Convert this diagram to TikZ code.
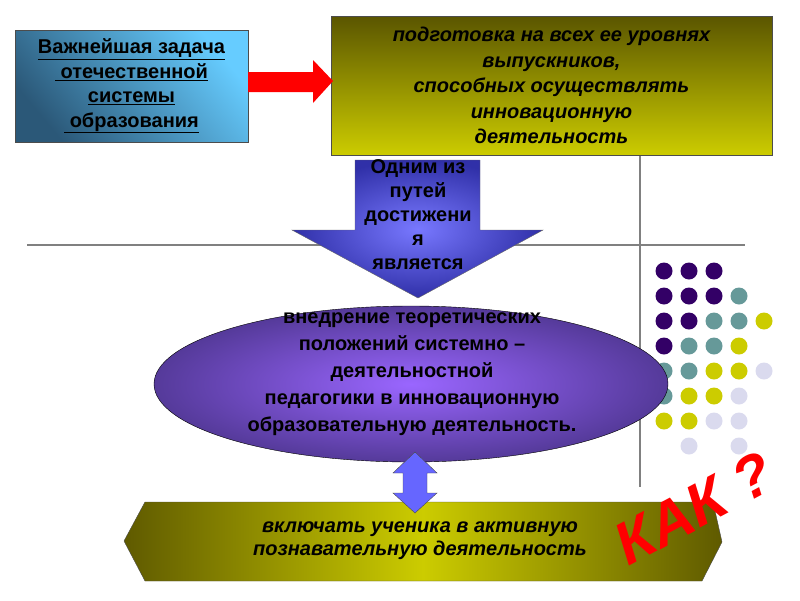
\documentclass[tikz,border=0pt]{standalone}
\usepackage{fontspec}
\setmainfont{Liberation Sans}
\usetikzlibrary{positioning}
\usetikzlibrary{shapes.geometric}
\definecolor{darkolive}{HTML}{5F5A00}
\definecolor{lightolive}{HTML}{CCCC00}
\definecolor{deepblue}{HTML}{2B5878}
\definecolor{skyblue}{HTML}{66CCFF}
\definecolor{dotpurple}{HTML}{330066}
\definecolor{dotteal}{HTML}{669999}
\definecolor{dotyellow}{HTML}{CCCC00}
\definecolor{dotlilac}{HTML}{DADAEE}
\definecolor{violetin}{HTML}{9A66FF}
\definecolor{violetout}{HTML}{553A9A}
\definecolor{bluein}{HTML}{7878FF}
\definecolor{blueout}{HTML}{3030A8}
\definecolor{arrowblue}{HTML}{6666FF}

\begin{document}
\begin{tikzpicture}[x=1pt,y=-1pt,
    txt/.style={font=\fontsize{20}{24.5}\selectfont\bfseries, align=center, text=black},
    dot/.style={circle, inner sep=0pt, minimum size=17pt}]
    \useasboundingbox (0,0) rectangle (800,600);

    % Frame lines
    \coordinate (h1) at (27,245);
    \coordinate (h2) at (745,245);
    \coordinate (v1) at (640,155);
    \coordinate (v2) at (640,487);
    \draw[gray, line width=1.5pt] (h1) -- (h2);
    \draw[gray, line width=1.5pt] (v1) -- (v2);

    % Dots
    \foreach \c/\r/\col in {0/0/dotpurple,1/0/dotpurple,2/0/dotpurple,
        0/1/dotpurple,1/1/dotpurple,2/1/dotpurple,3/1/dotteal,
        0/2/dotpurple,1/2/dotpurple,2/2/dotteal,3/2/dotteal,4/2/dotyellow,
        0/3/dotpurple,1/3/dotteal,2/3/dotteal,3/3/dotyellow,
        0/4/dotteal,1/4/dotteal,2/4/dotyellow,3/4/dotyellow,4/4/dotlilac,
        0/5/dotteal,1/5/dotyellow,2/5/dotyellow,3/5/dotlilac,
        0/6/dotyellow,1/6/dotyellow,2/6/dotlilac,3/6/dotlilac,
        1/7/dotlilac,3/7/dotlilac}
        \node[dot, fill=\col] (d\c\r) at ({664+25*\c},{271+25*\r}) {};

    % Task box
    \node[draw=black!70, top color=skyblue, bottom color=deepblue, shading angle=-50,
        minimum width=233pt, minimum height=112pt, txt] (task) at (131.5,86)
        {\underline{Важнейшая задача}\\ \underline{ отечественной}\\ \underline{системы}\\ \underline{ образования}};

    % Goal box
    \node[draw=black!70, top color=darkolive!95!black, bottom color=lightolive,
        minimum width=441pt, minimum height=139pt, txt,
        font=\fontsize{20}{25.5}\selectfont\bfseries\itshape] (goal) at (551.5,85.5)
        {подготовка на всех ее уровнях\\ выпускников,\\ способных осуществлять\\ инновационную\\ деятельность};

    % Red arrow
    \fill[red] (248,72) -- (313,72) -- (313,60) -- (333,81) -- (313,103) -- (313,92) -- (248,92) -- cycle;

    % Way ellipse
    \node[ellipse, draw=black, inner color=violetin, outer color=violetout,
        minimum width=514pt, minimum height=156pt] (way) at (411,384) {};
    \node[txt, font=\fontsize{20}{27}\selectfont\bfseries] (waytext) at (412,374)
        {внедрение теоретических\\ положений системно --\\ деятельностной\\ педагогики в инновационную\\ образовательную деятельность.};

    % Down arrow
    \shade[draw=black!60, inner color=bluein, outer color=blueout]
        (355,160) -- (480,160) -- (480,230) -- (543,230) -- (418,298)
        -- (292,230) -- (355,230) -- cycle;
    \node[txt, font=\fontsize{20}{24}\selectfont\bfseries] (means) at (418,215)
        {Одним из\\ путей\\ достижени\\ я\\ является};

    % Bottom banner
    \shade[draw=black!70, left color=darkolive, right color=darkolive, middle color=lightolive]
        (124,541) -- (145,502) -- (713,502) -- (722,542) -- (702,581) -- (145,581) -- cycle;
    \node[txt, font=\fontsize{20}{23}\selectfont\bfseries\itshape] (task2) at (420,541)
        {включать ученика в активную\\ познавательную деятельность};

    % Double arrow
    \filldraw[fill=arrowblue, draw=black!70]
        (415,452) -- (437,473) -- (427,473) -- (427,493) -- (437,493) -- (415,513)
        -- (393,493) -- (403,493) -- (403,473) -- (393,473) -- cycle;

    % Question
    \node[rotate=28, text=red, font=\fontsize{60}{64}\selectfont\bfseries\itshape] (how) at (694,508) {КАК ?};
\end{tikzpicture}
\end{document}
